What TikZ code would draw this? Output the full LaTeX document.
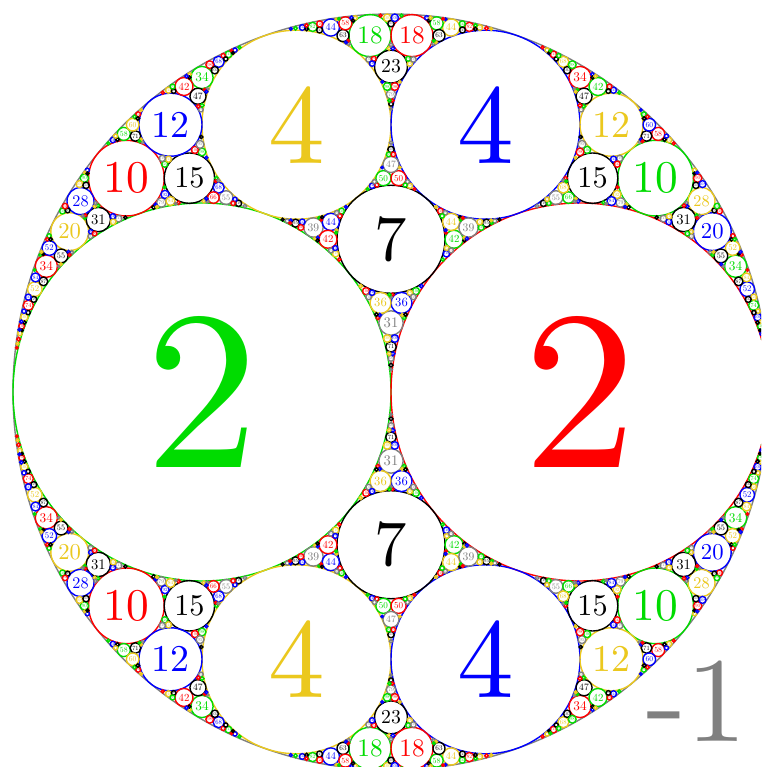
\documentclass[tikz,border=0pt]{standalone}
\definecolor{cgray}{RGB}{128,128,128}
\definecolor{cblack}{RGB}{0,0,0}
\definecolor{cgreen}{RGB}{0,220,0}
\definecolor{cblue}{RGB}{0,0,255}
\definecolor{cred}{RGB}{255,0,0}
\definecolor{cyellow}{RGB}{235,200,30}
\tikzset{
  apgring/.style={line width=1.4pt},
  apgtext/.style={inner sep=0pt, outer sep=0pt, font=\fontsize{10}{12}\selectfont}
}
\newcommand\apgcircle[4]{\draw[apgring,#4] (#1,#2) circle[radius=#3pt];}
\newcommand\apglabel[5]{\node[apgtext,text=#4,scale=#3] at (#1,#2) {#5};}

\ExplSyntaxOn
\fp_const:Nn \c_apg_R_fp {378}
\fp_const:Nn \c_apg_cx_fp {391}
\fp_const:Nn \c_apg_cy_fp {375}
\fp_const:Nn \c_apg_kmax_fp {300}
\fp_const:Nn \c_apg_klab_fp {180}
\clist_map_inline:nn {ak,ax,ay,bk,bx,by,ck,cx,cy,s,q,tk,tx,ty,x,y,r}
  { \fp_new:c {l_apg_#1_fp} }
\tl_new:N \l_apg_Xab_tl
\tl_new:N \l_apg_Xbc_tl
\tl_new:N \l_apg_Xca_tl

\cs_new:Npn \apg_opp:nnnn #1#2#3#4
  {
    \str_case:nn {#4}
      {
        {cgray}{cblack} {cblack}{cgray}
        {cgreen}{cblue} {cblue}{cgreen}
        {cred}{cyellow} {cyellow}{cred}
      }
  }

\cs_new_protected:Npn \apg_draw:nnnn #1#2#3#4
  {
    \fp_compare:nNnF {#1} > \c_apg_kmax_fp
      {
        \fp_set:Nn \l_apg_x_fp { round(\c_apg_cx_fp + \c_apg_R_fp * (#2) / (#1), 3) }
        \fp_set:Nn \l_apg_y_fp { round(\c_apg_cy_fp + \c_apg_R_fp * (#3) / (#1), 3) }
        \fp_set:Nn \l_apg_r_fp { round(\c_apg_R_fp / (#1), 3) }
        \use:e
          {
            \exp_not:N \apgcircle
              {\fp_use:N \l_apg_x_fp} {\fp_use:N \l_apg_y_fp}
              {\fp_use:N \l_apg_r_fp} {#4}
          }
        \fp_compare:nNnF {#1} > \c_apg_klab_fp
          {
            \use:e
              {
                \exp_not:N \apglabel
                  {\fp_use:N \l_apg_x_fp} {\fp_use:N \l_apg_y_fp}
                  {\fp_eval:n { round(0.12 * \l_apg_r_fp, 4) }}
                  {#4} {\fp_eval:n { round(#1) }}
              }
          }
      }
  }
\cs_new_protected:Npn \apg_drawc:n #1 { \apg_draw:nnnn #1 }
\cs_generate_variant:Nn \apg_drawc:n {V}

\cs_new_protected:Npn \apg_gap:nnn #1#2#3
  {
    \group_begin:
    \fp_set:Nn \l_apg_ak_fp { \use_i:nnnn #1 }
    \fp_set:Nn \l_apg_ax_fp { \use_ii:nnnn #1 }
    \fp_set:Nn \l_apg_ay_fp { \use_iii:nnnn #1 }
    \fp_set:Nn \l_apg_bk_fp { \use_i:nnnn #2 }
    \fp_set:Nn \l_apg_bx_fp { \use_ii:nnnn #2 }
    \fp_set:Nn \l_apg_by_fp { \use_iii:nnnn #2 }
    \fp_set:Nn \l_apg_ck_fp { \use_i:nnnn #3 }
    \fp_set:Nn \l_apg_cx_fp { \use_ii:nnnn #3 }
    \fp_set:Nn \l_apg_cy_fp { \use_iii:nnnn #3 }
    \fp_set:Nn \l_apg_s_fp
      { sqrt( \l_apg_ak_fp * \l_apg_bk_fp + \l_apg_bk_fp * \l_apg_ck_fp
              + \l_apg_ck_fp * \l_apg_ak_fp ) }
    \fp_set:Nn \l_apg_q_fp { sqrt(2) / \l_apg_s_fp }
    \fp_set:Nn \l_apg_tk_fp
      { 2 * ( \l_apg_ak_fp + \l_apg_bk_fp + \l_apg_ck_fp ) + 2 * sqrt(2) * \l_apg_s_fp }
    \fp_set:Nn \l_apg_tx_fp
      {
        2 * ( \l_apg_ax_fp + \l_apg_bx_fp + \l_apg_cx_fp )
        + \l_apg_q_fp * ( ( \l_apg_bk_fp + \l_apg_ck_fp ) * \l_apg_ax_fp
                        + ( \l_apg_ak_fp + \l_apg_ck_fp ) * \l_apg_bx_fp
                        + ( \l_apg_ak_fp + \l_apg_bk_fp ) * \l_apg_cx_fp )
      }
    \fp_set:Nn \l_apg_ty_fp
      {
        2 * ( \l_apg_ay_fp + \l_apg_by_fp + \l_apg_cy_fp )
        + \l_apg_q_fp * ( ( \l_apg_bk_fp + \l_apg_ck_fp ) * \l_apg_ay_fp
                        + ( \l_apg_ak_fp + \l_apg_ck_fp ) * \l_apg_by_fp
                        + ( \l_apg_ak_fp + \l_apg_bk_fp ) * \l_apg_cy_fp )
      }
    \tl_set:Ne \l_apg_Xab_tl
      {
        {\fp_eval:n { \l_apg_tk_fp - \l_apg_ck_fp }}
        {\fp_eval:n { \l_apg_tx_fp - \l_apg_cx_fp }}
        {\fp_eval:n { \l_apg_ty_fp - \l_apg_cy_fp }}
        {\apg_opp:nnnn #3}
      }
    \tl_set:Ne \l_apg_Xbc_tl
      {
        {\fp_eval:n { \l_apg_tk_fp - \l_apg_ak_fp }}
        {\fp_eval:n { \l_apg_tx_fp - \l_apg_ax_fp }}
        {\fp_eval:n { \l_apg_ty_fp - \l_apg_ay_fp }}
        {\apg_opp:nnnn #1}
      }
    \tl_set:Ne \l_apg_Xca_tl
      {
        {\fp_eval:n { \l_apg_tk_fp - \l_apg_bk_fp }}
        {\fp_eval:n { \l_apg_tx_fp - \l_apg_bx_fp }}
        {\fp_eval:n { \l_apg_ty_fp - \l_apg_by_fp }}
        {\apg_opp:nnnn #2}
      }
    \fp_compare:nNnF
      { min( \l_apg_tk_fp - \l_apg_ak_fp , \l_apg_tk_fp - \l_apg_bk_fp , \l_apg_tk_fp - \l_apg_ck_fp ) }
      > \c_apg_kmax_fp
      {
        \apg_drawc:V \l_apg_Xab_tl
        \apg_drawc:V \l_apg_Xbc_tl
        \apg_drawc:V \l_apg_Xca_tl
        \apg_gap:VVV \l_apg_Xab_tl \l_apg_Xbc_tl \l_apg_Xca_tl
        \apg_gap:nnV {#1} {#2} \l_apg_Xab_tl
        \apg_gap:nnV {#2} {#3} \l_apg_Xbc_tl
        \apg_gap:nnV {#3} {#1} \l_apg_Xca_tl
        \apg_gap:nVV {#1} \l_apg_Xab_tl \l_apg_Xca_tl
        \apg_gap:nVV {#2} \l_apg_Xab_tl \l_apg_Xbc_tl
        \apg_gap:nVV {#3} \l_apg_Xbc_tl \l_apg_Xca_tl
      }
    \group_end:
  }
\cs_generate_variant:Nn \apg_gap:nnn {VVV, nnV, nVV}

\tl_const:Nn \c_apg_O_tl { {-1}{0}{0}{cgray} }
\tl_const:Nn \c_apg_G_tl { {2}{-1}{0}{cgreen} }
\tl_const:Nn \c_apg_Rr_tl { {2}{1}{0}{cred} }
\tl_const:Nn \c_apg_LT_tl { {4}{-1}{2.828427124746190}{cyellow} }
\tl_const:Nn \c_apg_RT_tl { {4}{1}{2.828427124746190}{cblue} }
\tl_const:Nn \c_apg_ST_tl { {7}{0}{2.828427124746190}{cblack} }
\tl_const:Nn \c_apg_LB_tl { {4}{-1}{-2.828427124746190}{cyellow} }
\tl_const:Nn \c_apg_RB_tl { {4}{1}{-2.828427124746190}{cblue} }
\tl_const:Nn \c_apg_SB_tl { {7}{0}{-2.828427124746190}{cblack} }

\cs_new_protected:Npn \apgrun
  {
    \apg_drawc:V \c_apg_G_tl
    \apg_drawc:V \c_apg_Rr_tl
    \apg_drawc:V \c_apg_LT_tl
    \apg_drawc:V \c_apg_RT_tl
    \apg_drawc:V \c_apg_ST_tl
    \apg_drawc:V \c_apg_LB_tl
    \apg_drawc:V \c_apg_RB_tl
    \apg_drawc:V \c_apg_SB_tl
    % top gap
    \apg_gap:VVV \c_apg_LT_tl \c_apg_ST_tl \c_apg_RT_tl
    \apg_gap:VVV \c_apg_O_tl \c_apg_G_tl \c_apg_LT_tl
    \apg_gap:VVV \c_apg_G_tl \c_apg_Rr_tl \c_apg_ST_tl
    \apg_gap:VVV \c_apg_Rr_tl \c_apg_O_tl \c_apg_RT_tl
    \apg_gap:VVV \c_apg_O_tl \c_apg_LT_tl \c_apg_RT_tl
    \apg_gap:VVV \c_apg_G_tl \c_apg_LT_tl \c_apg_ST_tl
    \apg_gap:VVV \c_apg_Rr_tl \c_apg_ST_tl \c_apg_RT_tl
    % bottom gap
    \apg_gap:VVV \c_apg_LB_tl \c_apg_SB_tl \c_apg_RB_tl
    \apg_gap:VVV \c_apg_O_tl \c_apg_G_tl \c_apg_LB_tl
    \apg_gap:VVV \c_apg_G_tl \c_apg_Rr_tl \c_apg_SB_tl
    \apg_gap:VVV \c_apg_Rr_tl \c_apg_O_tl \c_apg_RB_tl
    \apg_gap:VVV \c_apg_O_tl \c_apg_LB_tl \c_apg_RB_tl
    \apg_gap:VVV \c_apg_G_tl \c_apg_LB_tl \c_apg_SB_tl
    \apg_gap:VVV \c_apg_Rr_tl \c_apg_SB_tl \c_apg_RB_tl
  }
\ExplSyntaxOff

\begin{document}
\begin{tikzpicture}[x=1pt,y=1pt]
  \useasboundingbox (0,0) rectangle (761,767);
  \clip (0,0) rectangle (761,767);
  \fill[white] (0,0) rectangle (761,767);
  \node[circle, draw=cgray, line width=1.4pt, minimum size=756pt, inner sep=0pt] (outer) at (391,375) {};
  \apgrun
  \node[apgtext, text=cgray, scale=12.1] (outerlabel) at (696.5,66) {-1};
\end{tikzpicture}
\end{document}
